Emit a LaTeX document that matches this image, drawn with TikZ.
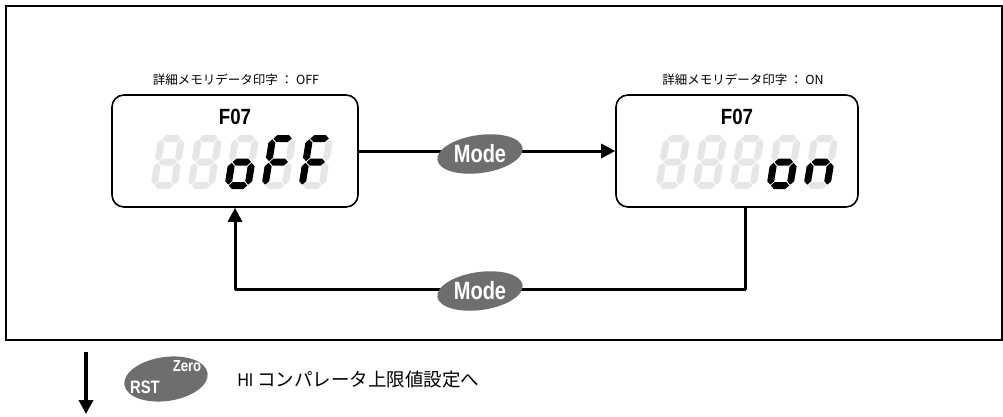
\documentclass[tikz,border=0pt]{standalone}
\usepackage{fontspec}
\setmainfont{Liberation Sans}
\newfontfamily\jp{Noto Sans CJK JP}
\usetikzlibrary{arrows.meta,shapes.geometric}
\definecolor{btngray}{HTML}{6D6E70}
\definecolor{seggray}{HTML}{E6E6E6}
% segment paths (local coords, y up); half thickness 3.5, gap 0.8
\newcommand\hseg[3]{({#1+0.8},#3) -- ({#1+0.8+3.5},{#3+3.5}) -- ({#2-0.8-3.5},{#3+3.5}) -- ({#2-0.8},#3) -- ({#2-0.8-3.5},{#3-3.5}) -- ({#1+0.8+3.5},{#3-3.5}) -- cycle}
\newcommand\vseg[3]{(#1,{#2+0.8}) -- ({#1+3.5},{#2+0.8+3.5}) -- ({#1+3.5},{#3-0.8-3.5}) -- (#1,{#3-0.8}) -- ({#1-3.5},{#3-0.8-3.5}) -- ({#1-3.5},{#2+0.8+3.5}) -- cycle}
% \sevseg{x}{ybottom}{a}{b}{c}{d}{e}{f}{g}  (colours)
\newcommand\sevseg[9]{%
  \begin{scope}[shift={(#1,#2)},y=1pt,xslant=0.16]
    \fill[#3] \hseg{3.5}{23.5}{50.5};
    \fill[#4] \vseg{23.5}{27}{50.5};
    \fill[#5] \vseg{23.5}{3.5}{27};
    \fill[#6] \hseg{3.5}{23.5}{3.5};
    \fill[#7] \vseg{3.5}{3.5}{27};
    \fill[#8] \vseg{3.5}{27}{50.5};
    \fill[#9] \hseg{3.5}{23.5}{27};
  \end{scope}}
\tikzset{
  frame/.style={draw=black,line width=1.6pt},
  dispbox/.style={draw=black,line width=1.6pt,rounded corners=12pt,minimum height=112pt,inner sep=0pt},
  conn/.style={line width=3pt,line join=round},
  tip/.style={-{Triangle[length=14pt,width=14pt]}},
  btn/.style={ellipse,fill=btngray,inner sep=0pt,minimum width=86pt,minimum height=38pt,rotate=8},
  btntext/.style={text=white,font=\fontsize{25}{26}\selectfont\bfseries},
  lbl/.style={font=\jp\fontsize{12.5}{14}\selectfont},
  ftext/.style={font=\fontsize{22}{24}\selectfont\bfseries}
}
\begin{document}
\begin{tikzpicture}[x=1pt,y=-1pt]
\useasboundingbox (0,0) rectangle (1003,416);
\draw[frame] (6,6) rectangle (1002,340);
% display boxes
\node[dispbox,minimum width=246pt] (lbox) at (235,151) {};
\node[dispbox,minimum width=242pt] (rbox) at (737,151) {};
\node[lbl] (llbl) at (236,80) {詳細メモリデータ印字 ： OFF};
\node[lbl] (rlbl) at (743,80) {詳細メモリデータ印字 ： ON};
\node[ftext] (lf) at (235,117) {\scalebox{0.85}[1]{F07}};
\node[ftext] (rf) at (737,117) {\scalebox{0.85}[1]{F07}};
% seven segment digits
\sevseg{150}{189}{seggray}{seggray}{seggray}{seggray}{seggray}{seggray}{seggray}
\sevseg{187}{189}{seggray}{seggray}{seggray}{seggray}{seggray}{seggray}{seggray}
\sevseg{224}{189}{seggray}{seggray}{black}{black}{black}{seggray}{black}
\sevseg{261}{189}{black}{seggray}{seggray}{seggray}{black}{black}{black}
\sevseg{298}{189}{black}{seggray}{seggray}{seggray}{black}{black}{black}
\sevseg{655}{189}{seggray}{seggray}{seggray}{seggray}{seggray}{seggray}{seggray}
\sevseg{692}{189}{seggray}{seggray}{seggray}{seggray}{seggray}{seggray}{seggray}
\sevseg{729}{189}{seggray}{seggray}{seggray}{seggray}{seggray}{seggray}{seggray}
\sevseg{766}{189}{seggray}{seggray}{black}{black}{black}{seggray}{black}
\sevseg{803}{189}{seggray}{seggray}{black}{seggray}{black}{seggray}{black}
% connectors
\coordinate (lowR) at (745,289);
\coordinate (lowL) at (235,289);
\draw[conn,tip] (lbox.east) -- (rbox.west);
\draw[conn,tip] (rbox.south -| lowR) -- (lowR) -- (lowL) -- (lbox.south -| lowL);
% mode buttons
\node[btn] (m1) at (480,154) {};
\node[btntext] (m1t) at (m1.center) {\scalebox{0.8}[1]{Mode}};
\node[btn] (m2) at (480,291) {};
\node[btntext] (m2t) at (m2.center) {\scalebox{0.8}[1]{Mode}};
% bottom row
\coordinate (dtop) at (86,352);
\coordinate (dbot) at (86,414);
\draw[line width=3.5pt,tip] (dtop) -- (dbot);
\node[btn,minimum width=84pt,minimum height=44pt] (rst) at (166,379) {};
\node[text=white,font=\fontsize{18}{19}\selectfont\bfseries] (rstt) at (145,387) {\scalebox{0.82}[1]{RST}};
\node[text=white,font=\fontsize{16}{17}\selectfont\bfseries] (zerot) at (187,366) {\scalebox{0.82}[1]{Zero}};
\node[anchor=west,font=\jp\fontsize{18.5}{20}\selectfont] (next) at (234,380) {{\rmfamily\scalebox{0.85}[1]{HI}} コンパレータ上限値設定へ};
\end{tikzpicture}
\end{document}
